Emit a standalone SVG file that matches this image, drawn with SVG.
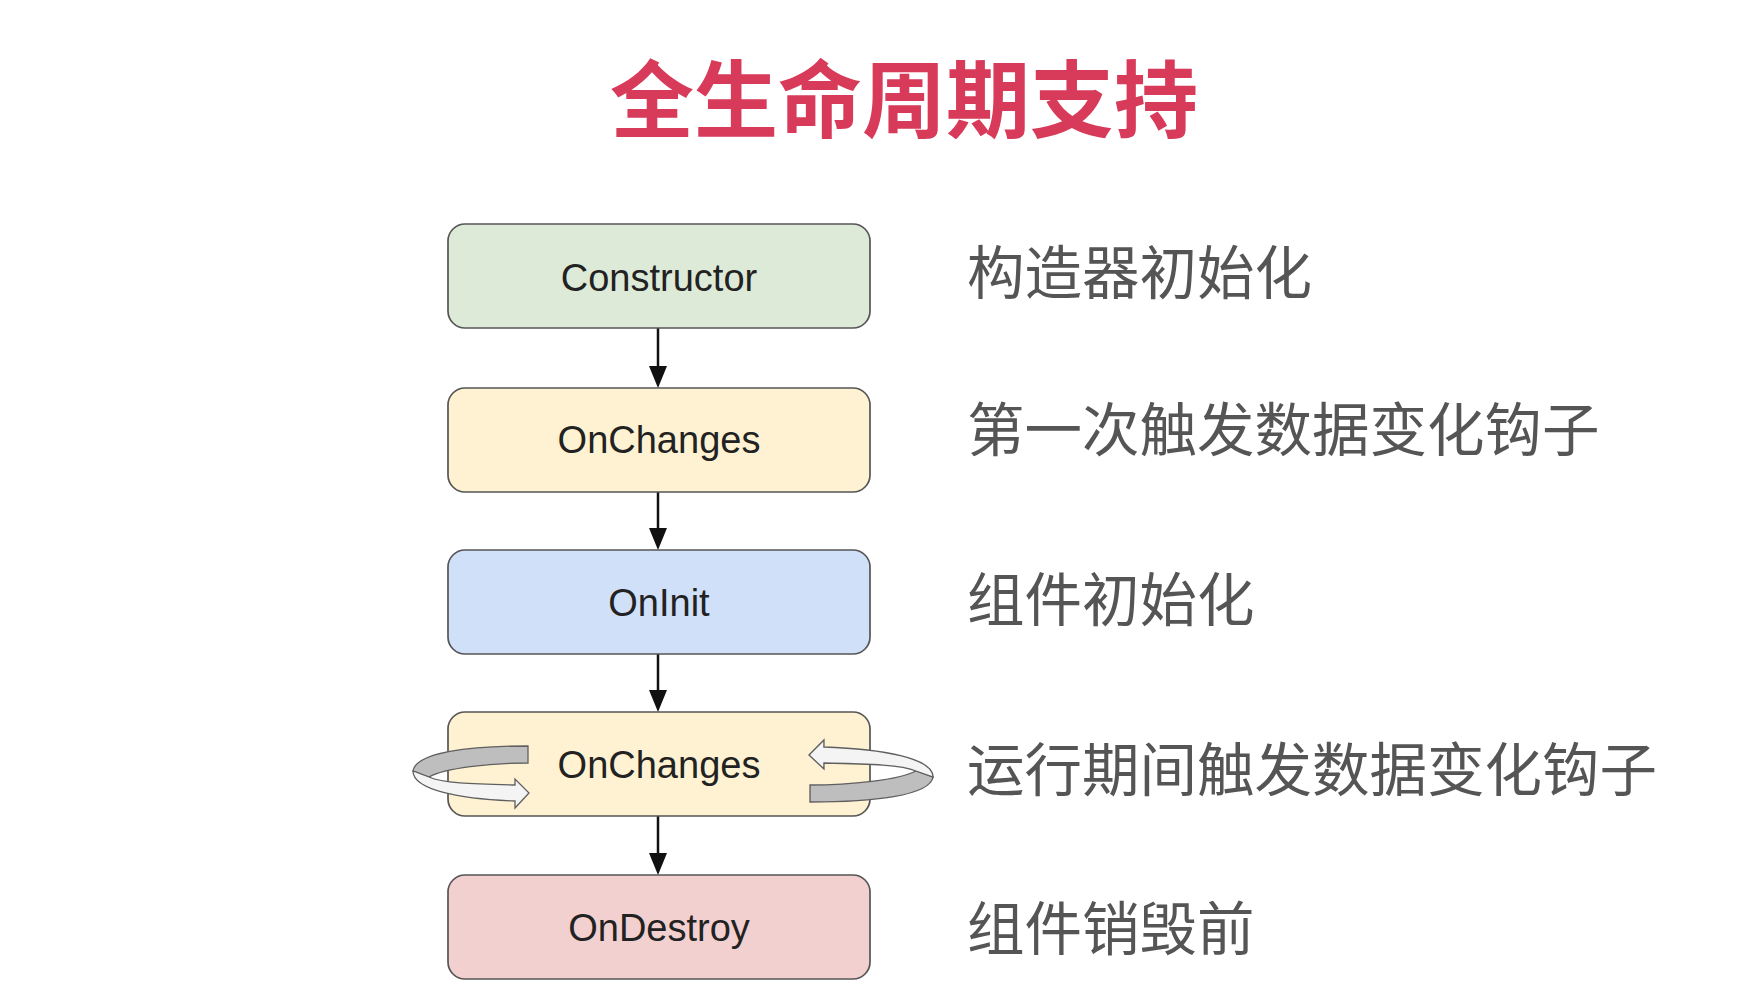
<svg xmlns="http://www.w3.org/2000/svg" width="1760" height="1008" viewBox="0 0 1760 1008">
<defs>
<style>
.box{stroke:#555555;stroke-width:1.7}
.lbl{font-family:"Liberation Sans",Arial,sans-serif;font-size:38px;fill:#222222;text-anchor:middle}
.cn{font-family:"Noto Sans CJK SC","Noto Sans",sans-serif;font-size:57.5px;fill:#555555}
.title{font-family:"Noto Sans CJK SC","Noto Sans",sans-serif;font-size:84px;font-weight:700;fill:#D83A5A;text-anchor:middle}
.conn{stroke:#111;stroke-width:2.5;fill:none}
.band-g{fill:#BEBEBE;stroke:#5f5f5f;stroke-width:1.3}
.band-w{fill:#F4F4F4;stroke:#5f5f5f;stroke-width:1.3}
</style>
<g id="loop">
<path class="band-g" d="M528,746 C470,746 416,752 413,771 L429,777 C445,768 490,763 528,763 Z"/>
<path class="band-w" d="M413,771 C413,790 460,799 515,801 L515,808 L529,793 L515,779 L515,785 C470,784 442,783 429,777 Z"/>
</g>
</defs>
<rect width="1760" height="1008" fill="#ffffff"/>
<g id="title"><text class="title" x="904" y="131">全生命周期支持</text></g>
<g id="connectors">
<line class="conn" x1="658" y1="328" x2="658" y2="366"/>
<path d="M649,366 L667,366 L658,388 Z" fill="#111"/>
<line class="conn" x1="658" y1="492" x2="658" y2="528"/>
<path d="M649,528 L667,528 L658,550 Z" fill="#111"/>
<line class="conn" x1="658" y1="654" x2="658" y2="690"/>
<path d="M649,690 L667,690 L658,712 Z" fill="#111"/>
<line class="conn" x1="658" y1="816" x2="658" y2="853"/>
<path d="M649,853 L667,853 L658,875 Z" fill="#111"/>
</g>
<g id="constructor">
<rect class="box" x="448" y="224" width="422" height="104" rx="17" fill="#DDEAD8"/>
<text class="lbl" x="659" y="291">Constructor</text>
</g>
<g id="onchanges1">
<rect class="box" x="448" y="388" width="422" height="104" rx="17" fill="#FFF2D2"/>
<text class="lbl" x="659" y="453">OnChanges</text>
</g>
<g id="oninit">
<rect class="box" x="448" y="550" width="422" height="104" rx="17" fill="#D0E0F8"/>
<text class="lbl" x="659" y="616">OnInit</text>
</g>
<g id="onchanges2">
<rect class="box" x="448" y="712" width="422" height="104" rx="17" fill="#FFF2D2"/>
<text class="lbl" x="659" y="778">OnChanges</text>
<use href="#loop"/>
<use href="#loop" transform="translate(1375,1548) scale(-1.07,-1)"/>
</g>
<g id="ondestroy">
<rect class="box" x="448" y="875" width="422" height="104" rx="17" fill="#F3D0D0"/>
<text class="lbl" x="659" y="941">OnDestroy</text>
</g>
<g id="labels">
<text class="cn" x="967" y="294">构造器初始化</text>
<text class="cn" x="967" y="451">第一次触发数据变化钩子</text>
<text class="cn" x="967" y="621">组件初始化</text>
<text class="cn" x="967" y="791">运行期间触发数据变化钩子</text>
<text class="cn" x="967" y="950">组件销毁前</text>
</g>
</svg>
